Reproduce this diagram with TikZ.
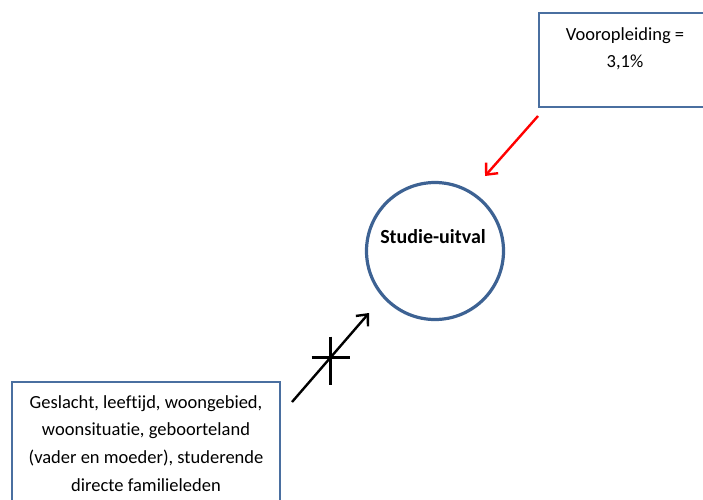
\documentclass[tikz,border=0pt]{standalone}
\usepackage{fontspec}
\setmainfont[Ligatures=NoCommon]{Carlito}
\usetikzlibrary{arrows.meta,calc}
\definecolor{frameblue}{HTML}{4A6FA0}
\definecolor{ringblue}{HTML}{3D6293}
\begin{document}
\begin{tikzpicture}[x=1pt,y=-1pt,
  infobox/.style={draw=frameblue,line width=1.2pt,rectangle,inner sep=0pt},
  boxtext/.style={align=center,font=\fontsize{18.5}{27.7}\selectfont,inner sep=0pt},
  outcome/.style={draw=ringblue,line width=3.2pt,circle,minimum size=137pt,inner sep=0pt},
  effect/.style={line width=2.4pt,-{Straight Barb[length=9pt,width=16pt,line width=2.4pt]}},
  barred/.style={line width=2.6pt}]
\useasboundingbox (0,0) rectangle (703,499);

% outcome variable
\node[outcome] (uitval) at (435,251) {};
\node[font=\bfseries\fontsize{20}{22}\selectfont] (uitvallabel) at (433,237) {Studie-uitval};

% prior education box (top right)
\node[infobox,minimum width=172pt,minimum height=94pt] (prior) at (625,60) {};
\node[boxtext,anchor=north] (priortext) at (625,27) {Vooropleiding =\\3,1\%};

% background characteristics box (bottom left)
\node[infobox,minimum width=268pt,minimum height=140pt] (background) at (146,452) {};
\node[boxtext,anchor=north] (backgroundtext) at (146,395)
  {Geslacht, leeftijd, woongebied,\\woonsituatie, geboorteland\\(vader en moeder), studerende\\directe familieleden};

% arrow ends
\coordinate (redstart) at (538,116);
\coordinate (redend) at (485,176);
\coordinate (blackstart) at (292,402);
\coordinate (blackend) at (369,313);

% significant effect of prior education
\draw[effect,red] (redstart) -- (redend);

% non-significant effect of background characteristics
\draw[effect,black] (blackstart) -- (blackend);
\coordinate (cross) at ($(blackstart)!0.5!(blackend)$);
\draw[barred] ($(cross)+(-19,0)$) -- ($(cross)+(19,0)$);
\draw[barred] ($(cross)+(0,-21)$) -- ($(cross)+(0,27)$);
\end{tikzpicture}
\end{document}
